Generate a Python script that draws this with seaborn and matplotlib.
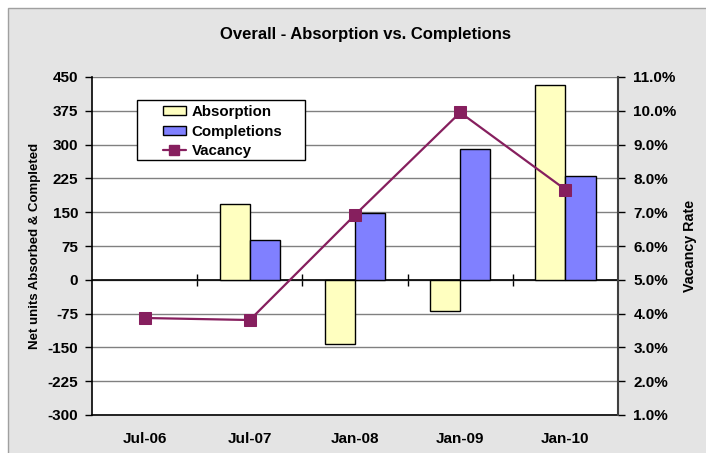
import numpy as np
import pandas as pd
import seaborn as sns
import matplotlib.pyplot as plt
from matplotlib.patches import Rectangle
from matplotlib.lines import Line2D
from matplotlib.ticker import FuncFormatter

# Dados
periodos = ['Jul-06', 'Jul-07', 'Jan-08', 'Jan-09', 'Jan-10']
absorption = [np.nan, 168, -143, -69, 433]
completions = [np.nan, 88, 148, 291, 231]
vacancy = [3.87, 3.81, 6.92, 9.95, 7.67]

y_ticks = [-300, -225, -150, -75, 0, 75, 150, 225, 300, 375, 450]
vac_ticks = [1, 2, 3, 4, 5, 6, 7, 8, 9, 10, 11]

cor_abs = '#ffffc0'
cor_comp = '#8080ff'
cor_vac = '#861f5e'
cinza = '#e4e4e4'

df = pd.DataFrame({
    'periodo': periodos * 2,
    'serie': ['Absorption'] * len(periodos) + ['Completions'] * len(periodos),
    'valor': absorption + completions,
})

sns.set_style('white')
plt.rcParams['font.family'] = ['Liberation Sans', 'DejaVu Sans']
plt.rcParams['font.weight'] = 'bold'
plt.rcParams['axes.unicode_minus'] = False
plt.rcParams['text.color'] = 'black'
plt.rcParams['axes.labelcolor'] = 'black'
plt.rcParams['xtick.color'] = 'black'
plt.rcParams['ytick.color'] = 'black'

fig = plt.figure(figsize=(7.06, 4.53), dpi=100)
fig.patch.set_facecolor('white')
fundo = Rectangle((8 / 706, -0.01), 1, 1 - 8 / 453 + 0.01, transform=fig.transFigure,
                  facecolor=cinza, edgecolor='#a0a0a0', lw=1, zorder=-10)
fig.patches.append(fundo)

larg = 526
ax = fig.add_axes([92 / 706, 38 / 453, larg / 706, 338 / 453])
ax.set_facecolor('white')

sns.barplot(data=df, x='periodo', y='valor', hue='serie', order=periodos,
            hue_order=['Absorption', 'Completions'],
            palette=[cor_abs, cor_comp], width=0.575, edgecolor='black',
            linewidth=1, saturation=1, legend=False, ax=ax, zorder=3)

ax.set_ylim(-300, 450)
ax.set_xlim(-0.5, len(periodos) - 0.5)
ax.set_yticks(y_ticks)
ax.yaxis.grid(True, color='#808080', lw=1)
ax.set_axisbelow(True)
ax.axhline(0, color='black', lw=1.2, zorder=2.5)
ax.set_xlabel('')
ax.set_ylabel('Net units Absorbed & Completed', fontsize=9.5, fontweight='bold', labelpad=5)
ax.tick_params(axis='y', direction='out', length=5, width=1, labelsize=11, pad=5)
ax.tick_params(axis='x', length=0, labelsize=11, pad=12)
for s in ['top', 'right']:
    ax.spines[s].set_visible(False)
for s in ['left', 'bottom']:
    ax.spines[s].set_color('black')
    ax.spines[s].set_linewidth(1.2)

# marcas de divisão das categorias sobre a linha do zero
sec = ax.secondary_xaxis(300 / 750)
sec.set_xticks(np.arange(len(periodos) - 1) + 0.5)
sec.set_xticklabels([])
sec.tick_params(direction='inout', length=9, width=1, color='black')
sec.spines['bottom'].set_visible(False)

ax2 = ax.twinx()
sns.lineplot(x=np.arange(len(periodos)), y=vacancy, color=cor_vac, lw=1.6,
             marker='s', markersize=8, markeredgecolor=cor_vac, ax=ax2, zorder=5)
ax2.set_ylim(1, 11)
ax2.set_yticks(vac_ticks)
ax2.yaxis.set_major_formatter(FuncFormatter(lambda v, _: f'{v:.1f}%'))
ax2.set_ylabel('Vacancy Rate', fontsize=10.3, fontweight='bold', labelpad=5)
ax2.tick_params(axis='y', direction='out', length=5, width=1, labelsize=11, pad=6)
for s in ['top', 'left', 'bottom']:
    ax2.spines[s].set_visible(False)
ax2.spines['right'].set_color('#404040')
ax2.spines['right'].set_linewidth(1.5)

# caixa da legenda
caixa = Rectangle((45 / larg, (415 - 160) / 338), 168 / larg, 60 / 338,
                  transform=ax2.transAxes, facecolor='white', edgecolor='black',
                  lw=1, zorder=9)
ax2.add_patch(caixa)

handles = [Rectangle((0, 0), 1, 1, facecolor=cor_abs, edgecolor='black'),
           Rectangle((0, 0), 1, 1, facecolor=cor_comp, edgecolor='black'),
           Line2D([], [], color=cor_vac, lw=1.6, marker='s', markersize=7)]
leg = ax2.legend(handles, ['Absorption', 'Completions', 'Vacancy'],
                 loc='upper left', bbox_to_anchor=(71 / larg, (415 - 105) / 338),
                 fontsize=10.8, frameon=False,
                 handlelength=1.5, handleheight=0.6, labelspacing=0.37,
                 borderpad=0, borderaxespad=0, handletextpad=0.4)
leg.set_zorder(10)

fig.text(365 / 706, 1 - 35 / 453, 'Overall - Absorption vs. Completions',
         ha='center', va='center', fontsize=12, fontweight='bold')

plt.savefig('out.png', dpi=100, facecolor=fig.get_facecolor())
